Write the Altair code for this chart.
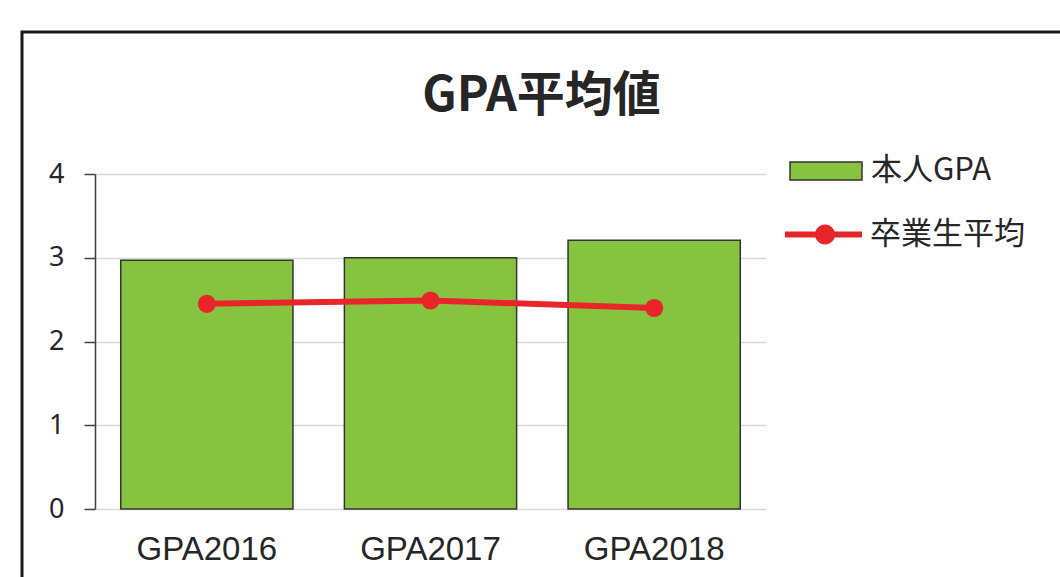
import altair as alt
import pandas as pd

categories = ["GPA2016", "GPA2017", "GPA2018"]
own_gpa = [2.97, 3.00, 3.21]
grad_avg = [2.45, 2.49, 2.40]
series_names = ["本人GPA", "卒業生平均"]
y_ticks = [0, 1, 2, 3, 4]

df = pd.DataFrame({
    "cat": categories,
    "own": own_gpa,
    "avg": grad_avg,
    "s1": series_names[0],
    "s2": series_names[1],
})

W, H = 671, 335
PL, PT = 95, 174

GREEN = "#86C440"
RED = "#E8262A"
DARK = "#262626"

x_enc = alt.X(
    "cat:N", sort=categories,
    scale=alt.Scale(paddingInner=0.23, paddingOuter=0.115),
    axis=alt.Axis(title=None, labelAngle=0, domain=False, ticks=False,
                  labelFont="Liberation Sans", labelFontSize=33,
                  labelColor=DARK, labelPadding=24, grid=False),
)
y_scale = alt.Scale(domain=[0, 4], nice=False)
y_axis = alt.Axis(title=None, values=y_ticks, format="d", grid=True, gridColor="#d9d9d9",
                  gridWidth=1.5, domainColor="#404040", domainWidth=1.5,
                  tickColor="#404040", tickWidth=1.5, tickSize=11,
                  labelFont="Noto Sans", labelFontSize=27, labelColor=DARK,
                  labelPadding=20)

bar_path = "M-1,-0.25H1V0.25H-1Z"
line_path = ("M-1,-0.075H1V0.075H-1Z "
             "M0.04,-0.26A0.26,0.26 0 1 1 0.04,0.26A0.26,0.26 0 1 1 0.04,-0.26Z")

bars = alt.Chart(df).mark_bar(stroke="#333333", strokeWidth=1.5).encode(
    x=x_enc,
    y=alt.Y("own:Q", scale=y_scale, axis=y_axis),
    fill=alt.Fill("s1:N", scale=alt.Scale(domain=[series_names[0]], range=[GREEN]),
                  legend=alt.Legend(title=None, orient="none", legendX=694, legendY=-40,
                                    symbolType=bar_path, symbolSize=72 * 72,
                                    symbolStrokeColor="#333333", symbolStrokeWidth=1.5,
                                    labelFont="Noto Sans CJK JP", labelFontSize=31,
                                    labelColor=DARK, labelOffset=8, padding=0)),
)

line = alt.Chart(df).mark_line(color=RED, strokeWidth=6).encode(
    x=alt.X("cat:N", sort=categories),
    y=alt.Y("avg:Q", scale=y_scale),
)

points = alt.Chart(df).mark_point(filled=True, size=330, opacity=1).encode(
    x=alt.X("cat:N", sort=categories),
    y=alt.Y("avg:Q", scale=y_scale),
    color=alt.Color("s2:N", scale=alt.Scale(domain=[series_names[1]], range=[RED]),
                    legend=alt.Legend(title=None, orient="none", legendX=690, legendY=22,
                                      symbolType=line_path, symbolSize=77 * 77,
                                      symbolStrokeWidth=0,
                                      labelFont="Noto Sans CJK JP", labelFontSize=31,
                                      labelColor=DARK, labelOffset=8, padding=0)),
)

frame = alt.Chart(pd.DataFrame({"k": [0]})).mark_rect(
    fill="transparent", stroke="#1a1a1a", strokeWidth=3
).encode(
    x=alt.value(-73), x2=alt.value(1000), y=alt.value(-142), y2=alt.value(460)
)

chart = alt.layer(bars, line, points, frame).resolve_scale(
    fill="independent", color="independent"
).properties(
    width=W, height=H,
    padding={"left": PL, "top": PT, "right": 1060 - PL - W, "bottom": 577 - PT - H},
    autosize=alt.AutoSizeParams(type="none"),
    background="white",
    title=alt.TitleParams(text="GPA平均値", font="Noto Sans CJK JP", fontSize=48,
                          fontWeight="bold", color=DARK, anchor="middle", dx=111,
                          offset=-90, frame="group"),
).configure_view(stroke=None)

chart.save("out.html", embed_options={"renderer": "svg", "actions": False})
